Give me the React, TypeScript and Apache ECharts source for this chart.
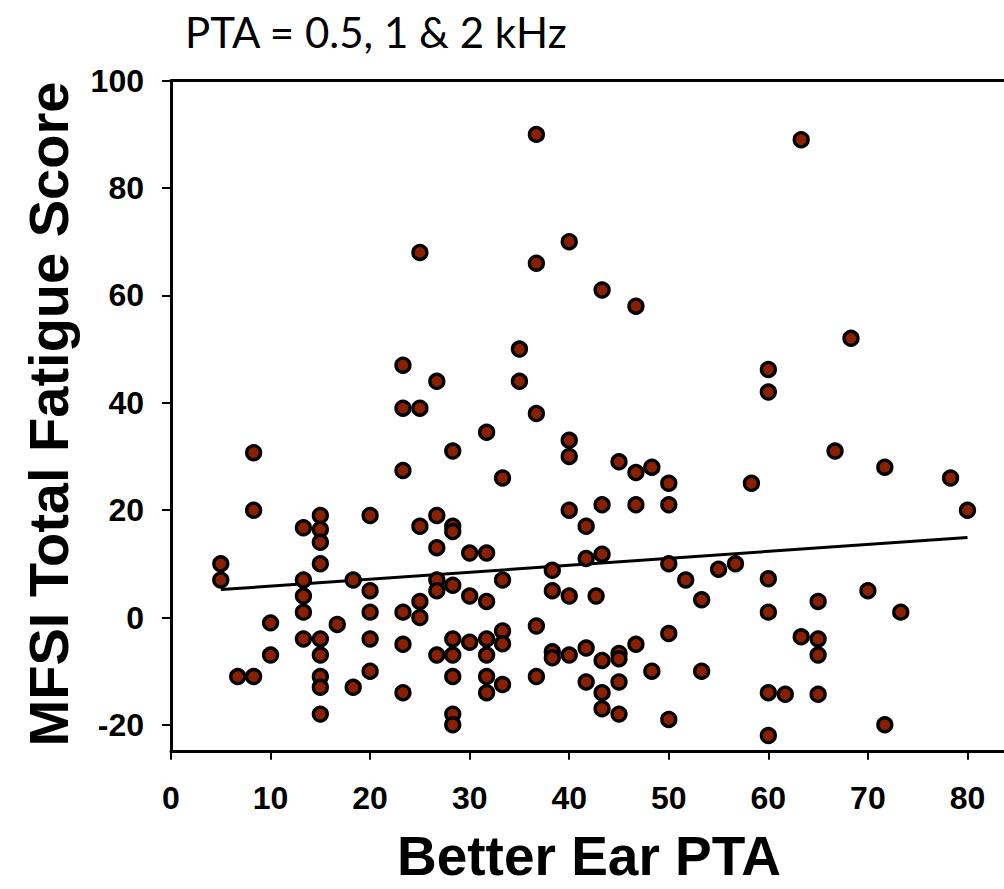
import React, { useEffect, useRef } from "react";
import * as echarts from "echarts";

const chartTitle = "PTA = 0.5, 1 & 2 kHz";
const xAxisTitle = "Better Ear PTA";
const yAxisTitle = "MFSI Total Fatigue Score";

const xTicks = [0, 10, 20, 30, 40, 50, 60, 70, 80];
const yTicks = [-20, 0, 20, 40, 60, 80, 100];

const ptaValues = [
  5, 5, 6.7, 8.3, 8.3, 8.3, 10, 10, 13.3, 13.3, 13.3, 13.3, 13.3,
  15, 15, 15, 15, 15, 15, 15, 15, 15, 16.7, 18.3, 18.3,
  20, 20, 20, 20, 20, 23.3, 23.3, 23.3, 23.3, 23.3, 23.3,
  25, 25, 25, 25, 25, 26.7, 26.7, 26.7, 26.7, 26.7, 26.7,
  28.3, 28.3, 28.3, 28.3, 28.3, 28.3, 28.3, 28.3, 28.3,
  30, 30, 30, 31.7, 31.7, 31.7, 31.7, 31.7, 31.7, 31.7,
  33.3, 33.3, 33.3, 33.3, 33.3, 35, 35, 36.7, 36.7, 36.7, 36.7, 36.7,
  38.3, 38.3, 38.3, 38.3, 40, 40, 40, 40, 40, 40,
  41.7, 41.7, 41.7, 41.7, 42.7, 43.3, 43.3, 43.3, 43.3, 43.3, 43.3,
  45, 45, 45, 45, 45, 46.7, 46.7, 46.7, 46.7, 48.3, 48.3,
  50, 50, 50, 50, 50, 51.7, 53.3, 53.3, 55, 56.7, 58.3,
  60, 60, 60, 60, 60, 60, 61.7, 63.3, 63.3, 65, 65, 65, 65,
  66.7, 68.3, 70, 71.7, 71.7, 73.3, 78.3, 80,
];

const fatigueScores = [
  10, 7, -11, 30.7, 20, -11, -1, -7, 16.7, 7, 4, 1, -4,
  19, 16.4, 14, 10, -4, -7, -11, -13, -18, -1.3, 7, -13,
  19, 5, 1, -4, -10, 47, 39, 27.4, 1, -5, -14,
  68, 39, 17, 3, 0, 44, 19, 13, 7, 5, -7,
  31, 17, 16, 6, -4, -7, -11, -18, -20,
  12, 4, -4.6, 34.5, 12, 3, -4, -7, -11, -14,
  26, 7, -2.5, -4.9, -12.5, 50, 44, 90, 66, 38, -1.6, -11,
  8.8, 5, -6.4, -7.5, 70, 33, 30, 20, 4, -7,
  17, 11, -5.7, -12, 4, 61, 21, 11.8, -8, -14, -17,
  29, -6.7, -7.7, -12, -18, 58, 27, 21, -5, 28, -10,
  25, 21, 10, -3, -19, 7, 3.3, -10, 9, 10, 25,
  46.2, 42, 7.2, 1, -14, -22, -14.3, 89, -3.6, 3, -4, -7, -14.3,
  31, 52, 5, 28, -20, 1, 26, 20,
];

const trendX = [5, 80];
const trendY = [5.2, 14.9];

export default function App() {
  const ref = useRef<HTMLDivElement>(null);

  useEffect(() => {
    document.body.style.margin = "0";
    if (!ref.current) return;
    const chart = echarts.init(ref.current, null, { renderer: "svg" });
    const points = ptaValues.map((x, i) => [x, fatigueScores[i]]);
    const trend = trendX.map((x, i) => [x, trendY[i]]);
    const labelFont = {
      fontFamily: "Liberation Sans, Arial, sans-serif",
      fontWeight: "bold" as const,
      fontSize: 32,
      color: "#000",
    };
    chart.setOption({
      animation: false,
      backgroundColor: "#fff",
      grid: { left: 171, top: 80.7, right: 0, bottom: 137.3, containLabel: false },
      xAxis: [
        {
          type: "value",
          min: 0,
          max: 83.67,
          axisLine: { show: true, onZero: false, lineStyle: { color: "#000", width: 3 } },
          axisTick: {
            show: true,
            length: 8,
            customValues: xTicks,
            lineStyle: { color: "#000", width: 2 },
          },
          axisLabel: { ...labelFont, margin: 30, customValues: xTicks },
          splitLine: { show: false },
        },
        {
          type: "value",
          position: "top",
          min: 0,
          max: 83.67,
          axisLine: { show: true, onZero: false, lineStyle: { color: "#000", width: 3 } },
          axisTick: { show: false },
          axisLabel: { show: false },
          splitLine: { show: false },
        },
      ],
      yAxis: {
        type: "value",
        min: -25,
        max: 100,
        axisLine: { show: true, onZero: false, lineStyle: { color: "#000", width: 3 } },
        axisTick: {
          show: true,
          length: 9,
          customValues: yTicks,
          lineStyle: { color: "#000", width: 2 },
        },
        axisLabel: { ...labelFont, margin: 27, customValues: yTicks },
        splitLine: { show: false },
      },
      graphic: [
        {
          type: "text",
          left: 185,
          top: 11,
          style: {
            text: chartTitle,
            font: "42px Lato, 'Open Sans', sans-serif",
            fill: "#000",
          },
        },
        {
          type: "text",
          x: 589,
          y: 856,
          style: {
            text: xAxisTitle,
            font: "bold 55px 'Liberation Sans', Arial, sans-serif",
            fill: "#000",
            align: "center",
            verticalAlign: "middle",
          },
        },
        {
          type: "text",
          x: 48,
          y: 414,
          rotation: Math.PI / 2,
          style: {
            text: yAxisTitle,
            font: "bold 56px 'Liberation Sans', Arial, sans-serif",
            fill: "#000",
            align: "center",
            verticalAlign: "middle",
          },
        },
      ],
      series: [
        {
          type: "line",
          data: trend,
          showSymbol: false,
          symbol: "none",
          lineStyle: { color: "#000", width: 3 },
          z: 2,
          silent: true,
        },
        {
          type: "scatter",
          data: points,
          symbol: "circle",
          symbolSize: 14,
          itemStyle: { color: "#8a2000", borderColor: "#000", borderWidth: 3.3, opacity: 1 },
          z: 3,
        },
      ],
    });
    return () => chart.dispose();
  }, []);

  return <div ref={ref} style={{ width: 1004, height: 889 }} />;
}
